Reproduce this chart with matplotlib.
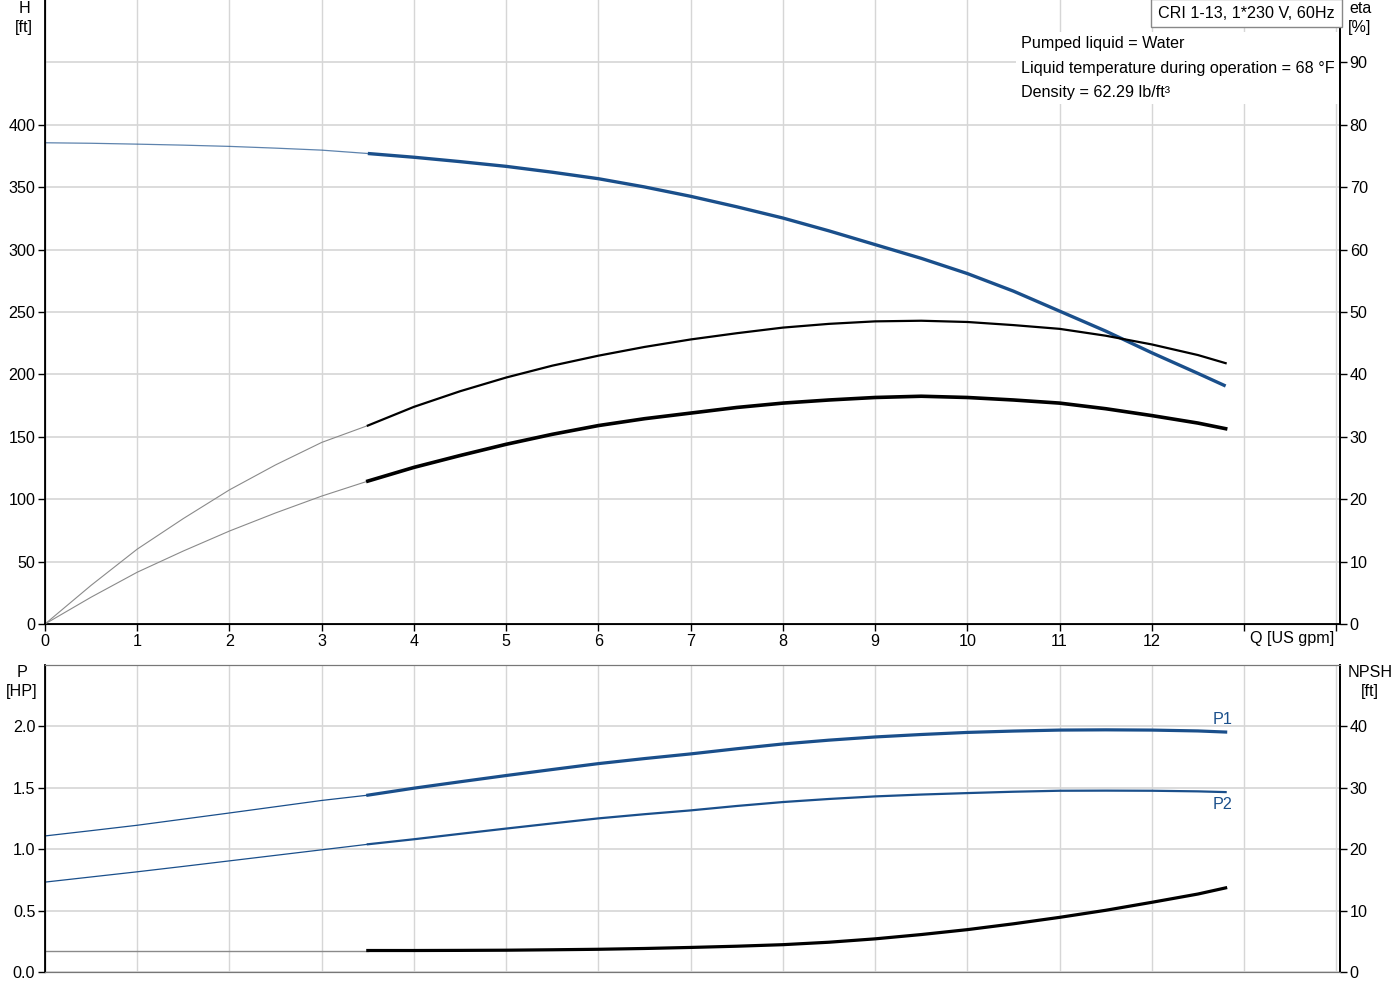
import matplotlib
matplotlib.use('Agg')
import matplotlib.pyplot as plt

plt.rcParams['font.family'] = ['Liberation Sans', 'DejaVu Sans']
plt.rcParams['font.size'] = 11.6

# Flow points [US gpm]; the curves are thin up to 3.5 gpm, thick after
Q = [0, 0.5, 1, 1.5, 2, 2.5, 3, 3.5, 4, 4.5, 5, 5.5, 6, 6.5, 7, 7.5, 8, 8.5,
     9, 9.5, 10, 10.5, 11, 11.5, 12, 12.5, 12.8]
split = 7  # index of Q = 3.5

# Head [ft]
H = [385.6, 385.2, 384.5, 383.7, 382.7, 381.3, 379.7, 377.0, 374.0, 370.5,
     366.7, 362.0, 356.8, 350.2, 342.7, 334.3, 325.3, 315.0,
     304.0, 293.0, 280.8, 266.7, 250.7, 234.7, 217.3, 200.8, 190.7]
# Efficiencies [%]
eta_pump = [0, 6.2, 12.0, 16.9, 21.5, 25.5, 29.1, 31.8, 34.8, 37.3,
            39.5, 41.4, 43.0, 44.4, 45.6, 46.6, 47.5, 48.1,
            48.5, 48.6, 48.4, 47.9, 47.3, 46.2, 44.8, 43.1, 41.8]
eta_total = [0, 4.3, 8.3, 11.7, 14.9, 17.8, 20.5, 22.9, 25.1, 27.0,
             28.8, 30.4, 31.8, 32.9, 33.8, 34.7, 35.4, 35.9,
             36.3, 36.5, 36.3, 35.9, 35.4, 34.5, 33.4, 32.2, 31.3]
# Power [HP]
P1 = [1.108, 1.151, 1.195, 1.245, 1.295, 1.346, 1.397, 1.44, 1.497, 1.549,
      1.60, 1.649, 1.697, 1.738, 1.776, 1.818, 1.857, 1.888,
      1.914, 1.934, 1.951, 1.962, 1.970, 1.972, 1.970, 1.963, 1.954]
P2 = [0.732, 0.774, 0.816, 0.860, 0.905, 0.950, 0.995, 1.04, 1.081, 1.125,
      1.168, 1.210, 1.251, 1.285, 1.316, 1.352, 1.384, 1.409,
      1.430, 1.445, 1.457, 1.468, 1.476, 1.477, 1.476, 1.471, 1.465]
# NPSH [ft]
NPSH = [3.5, 3.5, 3.5, 3.5, 3.5, 3.5, 3.5, 3.5, 3.5, 3.52,
        3.55, 3.62, 3.7, 3.83, 4.0, 4.2, 4.45, 4.85,
        5.4, 6.1, 6.9, 7.85, 8.9, 10.05, 11.35, 12.7, 13.7]

x_ticks = list(range(15))
x_labels = [str(i) for i in range(13)] + ['', '']
h_ticks = list(range(0, 401, 50))
eta_ticks = list(range(0, 91, 10))
p_ticks = [0.0, 0.5, 1.0, 1.5, 2.0]
p_labels = ['0.0', '0.5', '1.0', '1.5', '2.0']
npsh_ticks = [0, 10, 20, 30, 40]

blue = '#1a4f8b'
thin_grey = '#8a8a8a'
grid_c = '#d6d6d6'

W, Hpx = 1400, 1000
def fx(px):
    return px / W
def fy(py):
    return 1 - py / Hpx

fig = plt.figure(figsize=(14, 10), dpi=100)

# ---------- top panel: head + efficiency ----------
ax = fig.add_axes([fx(45), fy(624), fx(1340) - fx(45), fy(0) - fy(624)])
ax.set_xlim(0, 14.04)
ax.set_ylim(0, 500)
ax.set_xticks(x_ticks)
ax.set_xticklabels(x_labels)
ax.set_yticks(h_ticks)
for v in x_ticks:
    ax.axvline(v, color=grid_c, lw=1, zorder=0)
for v in h_ticks + [450]:
    ax.axhline(v, color=grid_c, lw=1.2, zorder=0)
ax.tick_params(axis='both', direction='out', length=5, width=1, pad=2)
ax.spines['top'].set_visible(False)
for s in ['left', 'bottom', 'right']:
    ax.spines[s].set_color('black')
    ax.spines[s].set_linewidth(1.3)

ax.plot(Q[:split + 1], H[:split + 1], color=blue, lw=0.9, alpha=0.7)
ax.plot(Q[split:], H[split:], color=blue, lw=2.4, solid_capstyle='butt')

axr = ax.twinx()
axr.set_ylim(0, 100)
axr.set_yticks(eta_ticks)
axr.tick_params(axis='y', direction='out', length=5, width=1, pad=2)
axr.spines['top'].set_visible(False)
axr.spines['right'].set_linewidth(1.3)
axr.plot(Q[:split + 1], eta_pump[:split + 1], color=thin_grey, lw=0.8)
axr.plot(Q[split:], eta_pump[split:], color='black', lw=1.6)
axr.plot(Q[:split + 1], eta_total[:split + 1], color=thin_grey, lw=0.8)
axr.plot(Q[split:], eta_total[split:], color='black', lw=2.6)

# ---------- bottom panel: power + NPSH ----------
bx = fig.add_axes([fx(45), fy(972), fx(1340) - fx(45), fy(665) - fy(972)])
bx.set_xlim(0, 14.04)
bx.set_ylim(0, 2.5)
bx.set_xticks(x_ticks)
bx.set_xticklabels([])
bx.tick_params(axis='x', length=0)
bx.set_yticks(p_ticks)
bx.set_yticklabels(p_labels)
bx.tick_params(axis='y', direction='out', length=5, width=1, pad=2)
for v in x_ticks:
    bx.axvline(v, color=grid_c, lw=1, zorder=0)
for v in p_ticks:
    bx.axhline(v, color=grid_c, lw=1.2, zorder=0)
bx.spines['left'].set_color('black')
bx.spines['left'].set_linewidth(1.3)
bx.spines['right'].set_linewidth(1.3)
bx.spines['top'].set_color('#777777')
bx.spines['bottom'].set_color('#777777')

bx.plot(Q[:split + 1], P1[:split + 1], color=blue, lw=0.9)
bx.plot(Q[split:], P1[split:], color=blue, lw=2.3)
bx.plot(Q[:split + 1], P2[:split + 1], color=blue, lw=0.9)
bx.plot(Q[split:], P2[split:], color=blue, lw=1.6)
bx.text(Q[-1] - 0.03, P1[-1] + 0.04, 'P1', color=blue, ha='center', va='bottom')
bx.text(Q[-1] - 0.03, P2[-1] - 0.04, 'P2', color=blue, ha='center', va='top')

bxr = bx.twinx()
bxr.set_ylim(0, 50)
bxr.set_yticks(npsh_ticks)
bxr.tick_params(axis='y', direction='out', length=5, width=1, pad=2)
bxr.spines['right'].set_linewidth(1.3)
bxr.spines['top'].set_color('#777777')
bxr.spines['bottom'].set_color('#777777')
bxr.plot(Q[:split + 1], NPSH[:split + 1], color=thin_grey, lw=1.0)
bxr.plot(Q[split:], NPSH[split:], color='black', lw=2.3)

# ---------- labels and info ----------
fig.text(fx(24), fy(1), 'H\n[ft]', ha='center', va='top', linespacing=1.35)
fig.text(fx(1360), fy(1), 'eta\n[%]', ha='center', va='top', linespacing=1.35)
fig.text(fx(22), fy(665), 'P\n[HP]', ha='center', va='top', linespacing=1.35)
fig.text(fx(1370), fy(665), 'NPSH\n[ft]', ha='center', va='top', linespacing=1.35)
fig.text(fx(1292), fy(639), 'Q [US gpm]', ha='center', va='center')

fig.text(fx(1246.5), fy(13), 'CRI 1-13, 1*230 V, 60Hz', ha='center', va='center',
         bbox=dict(boxstyle='square,pad=0.42', fc='white', ec='#888888', lw=1))
fig.text(fx(1021), fy(68),
         'Pumped liquid = Water\n'
         'Liquid temperature during operation = 68 \u00b0F\n'
         'Density = 62.29 lb/ft\u00b3',
         ha='left', va='center', linespacing=1.76,
         bbox=dict(boxstyle='square,pad=0.3', fc='white', ec='none'))

fig.savefig('out.png', dpi=100)
